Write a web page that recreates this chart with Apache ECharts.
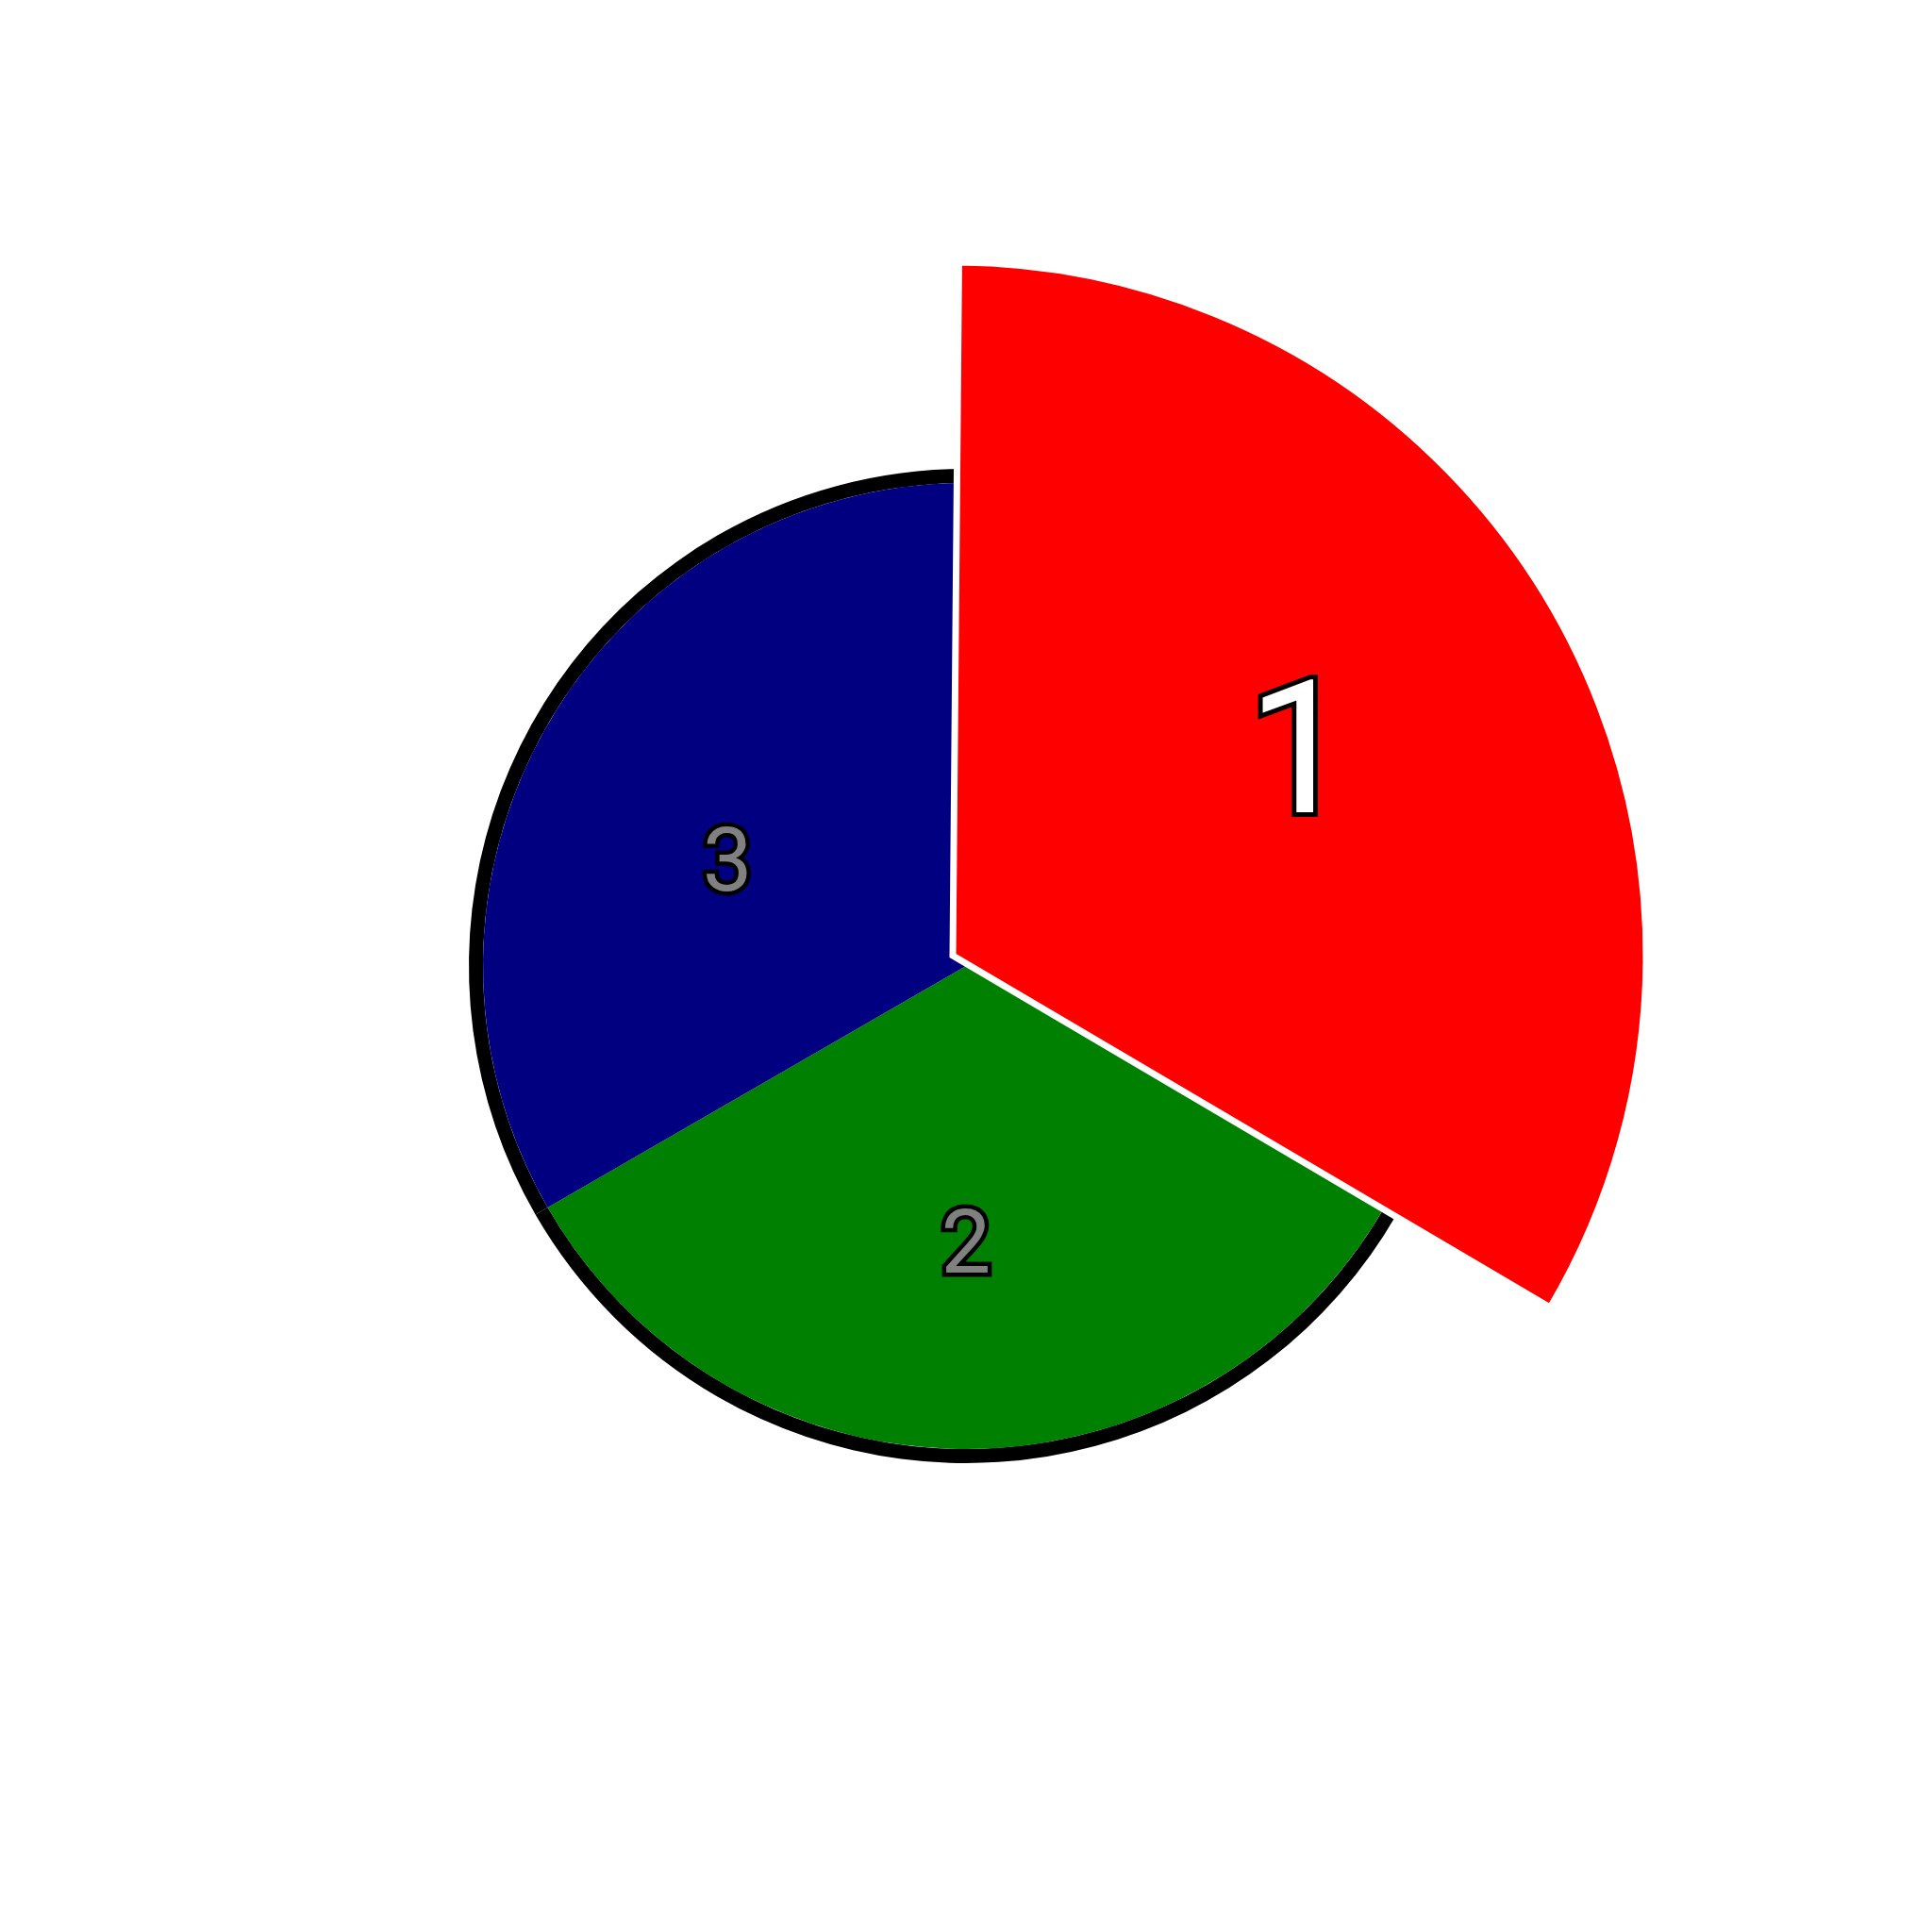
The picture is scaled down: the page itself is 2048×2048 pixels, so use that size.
<!DOCTYPE html>
<html>
<head>
<meta charset="utf-8">
<script src="https://cdn.jsdelivr.net/npm/echarts@6/dist/echarts.min.js"></script>
<style>html,body{margin:0;padding:0;background:#fff}#c{width:2048px;height:2048px}</style>
</head>
<body>
<div id="c"></div>
<script>
// Data
const categories = ['1', '2', '3'];
const values = [1, 1, 1];
const sliceColors = ['#ff0000', '#008000', '#000080'];
const labelColors = ['#ffffff', '#808080', '#808080'];
const explodedIndex = 0;

const CLEAR = 'rgba(0,0,0,0)';
const FONT = 'Roboto, "Noto Sans", sans-serif';
const chart = echarts.init(document.getElementById('c'), null, {renderer: 'canvas'});

function items(styleFn, labelFn) {
  return categories.map((name, i) => ({
    name: name,
    value: values[i],
    itemStyle: styleFn(i),
    label: labelFn ? labelFn(i) : {show: false}
  }));
}

const baseCenter = [1024, 1024];
const bigCenter = [1010, 1013];
// small label nudges (px)
const labelNudgeY = [7, 9, 42];
const nudge = function (p) { return {dy: labelNudgeY[p.dataIndex] || 0}; };

const series = [
  // black outer rim under the normal slices
  {
    type: 'pie', silent: true, animation: false, startAngle: 90, clockwise: true,
    center: baseCenter, radius: [512, 527],
    label: {show: false}, labelLine: {show: false},
    data: items(i => ({color: i === explodedIndex ? CLEAR : '#000000', borderWidth: 0}))
  },
  // normal slices
  {
    type: 'pie', silent: true, animation: false, startAngle: 90, clockwise: true,
    center: baseCenter, radius: [0, 512],
    label: {show: false}, labelLine: {show: false},
    data: items(i => ({color: i === explodedIndex ? CLEAR : sliceColors[i], borderWidth: 0}))
  },
  // enlarged slice
  {
    type: 'pie', silent: true, animation: false, startAngle: 89.5, clockwise: true,
    center: bigCenter, radius: [0, 735],
    label: {show: false}, labelLine: {show: false},
    data: items(i => i === explodedIndex
      ? {color: sliceColors[i], borderColor: '#ffffff', borderWidth: 7, borderJoin: 'miter'}
      : {color: CLEAR, borderWidth: 0})
  },
  // labels for normal slices
  {
    type: 'pie', silent: true, animation: false, startAngle: 90, clockwise: true,
    center: baseCenter, radius: [0, 578],
    labelLine: {show: false},
    labelLayout: nudge,
    data: items(() => ({color: CLEAR, borderWidth: 0}), i => i === explodedIndex ? {show: false} : {
      show: true, position: 'inside', formatter: '{b}',
      fontFamily: FONT, fontSize: 94, color: labelColors[i],
      textBorderColor: '#000000', textBorderWidth: 9
    })
  },
  // label for enlarged slice
  {
    type: 'pie', silent: true, animation: false, startAngle: 89.5, clockwise: true,
    center: bigCenter, radius: [0, 838],
    labelLine: {show: false},
    labelLayout: nudge,
    data: items(() => ({color: CLEAR, borderWidth: 0}), i => i !== explodedIndex ? {show: false} : {
      show: true, position: 'inside', formatter: '{b}',
      fontFamily: FONT, fontSize: 196, color: labelColors[i],
      textBorderColor: '#000000', textBorderWidth: 10
    })
  }
];

chart.setOption({
  backgroundColor: '#ffffff',
  animation: false,
  series: series
});
</script>
</body>
</html>
